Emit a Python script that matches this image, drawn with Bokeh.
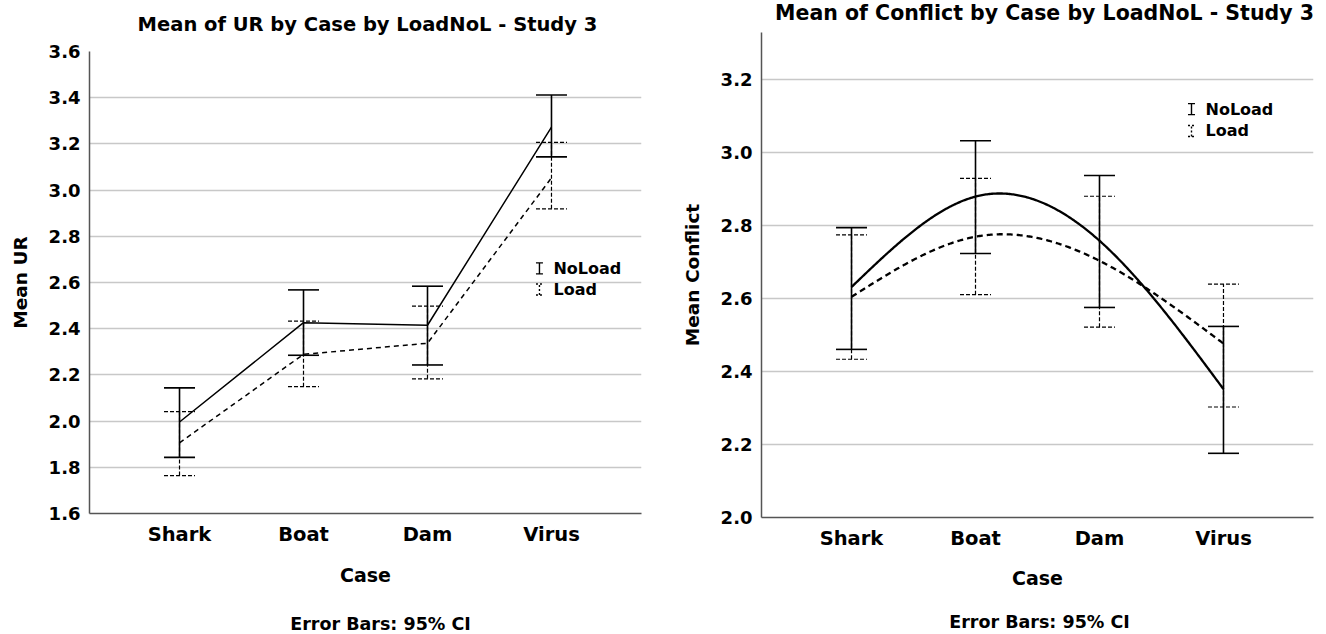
import numpy as np
from jinja2 import Template
from bokeh.plotting import figure
from bokeh.models import FixedTicker, Range1d, Label
from bokeh.embed import file_html
from bokeh.resources import INLINE

# ---------------- data ----------------
cases = ["Shark", "Boat", "Dam", "Virus"]
groups = ["NoLoad", "Load"]

ur_noload_mean = [1.996, 2.426, 2.415, 3.273]
ur_noload_low = [1.843, 2.285, 2.243, 3.144]
ur_noload_high = [2.144, 2.568, 2.584, 3.412]
ur_load_mean = [1.906, 2.289, 2.337, 3.053]
ur_load_low = [1.764, 2.149, 2.183, 2.919]
ur_load_high = [2.041, 2.433, 2.498, 3.207]

cf_noload_mean = [2.632, 2.880, 2.759, 2.352]
cf_noload_low = [2.461, 2.724, 2.576, 2.176]
cf_noload_high = [2.795, 3.033, 2.938, 2.524]
cf_load_mean = [2.605, 2.770, 2.704, 2.477]
cf_load_low = [2.434, 2.611, 2.522, 2.303]
cf_load_high = [2.775, 2.930, 2.881, 2.640]

ur_ticks = [1.6, 1.8, 2.0, 2.2, 2.4, 2.6, 2.8, 3.0, 3.2, 3.4, 3.6]
cf_ticks = [2.0, 2.2, 2.4, 2.6, 2.8, 3.0, 3.2]

FONT = "DejaVu Sans"
xpos = list(range(len(cases)))


def natural_spline(xs, ys, n=300):
    xs = np.asarray(xs, float)
    ys = np.asarray(ys, float)
    k = len(xs)
    h = np.diff(xs)
    A = np.zeros((k, k))
    b = np.zeros(k)
    A[0, 0] = A[-1, -1] = 1
    for i in range(1, k - 1):
        A[i, i - 1] = h[i - 1]
        A[i, i] = 2 * (h[i - 1] + h[i])
        A[i, i + 1] = h[i]
        b[i] = 6 * ((ys[i + 1] - ys[i]) / h[i] - (ys[i] - ys[i - 1]) / h[i - 1])
    M = np.linalg.solve(A, b)
    xx = np.linspace(xs[0], xs[-1], n)
    idx = np.clip(np.searchsorted(xs, xx) - 1, 0, k - 2)
    x0 = xs[idx]
    x1 = xs[idx + 1]
    hh = x1 - x0
    t0 = x1 - xx
    t1 = xx - x0
    yy = (M[idx] * t0 ** 3 / (6 * hh) + M[idx + 1] * t1 ** 3 / (6 * hh)
          + (ys[idx] / hh - M[idx] * hh / 6) * t0
          + (ys[idx + 1] / hh - M[idx + 1] * hh / 6) * t1)
    return xx, yy


def make_fig(width, ylo, yhi, ticks, ylabel, title, mb, case_standoff,
             title_pos, title_size, eb_pos):
    p = figure(width=width, height=634, x_range=Range1d(-0.726, 3.726),
               y_range=Range1d(ylo, yhi), output_backend="svg",
               toolbar_location=None, min_border_left=mb[0],
               min_border_right=mb[1], min_border_top=mb[2],
               min_border_bottom=mb[3])
    p.outline_line_color = None
    p.background_fill_color = "white"
    p.border_fill_color = "white"

    p.xgrid.grid_line_color = None
    p.ygrid.grid_line_color = "#c8c8c8"
    p.ygrid.grid_line_width = 1.5
    p.ygrid.ticker = FixedTicker(ticks=ticks)

    for ax in (p.xaxis[0], p.yaxis[0]):
        ax.axis_line_color = "#555555"
        ax.axis_line_width = 1.5
        ax.major_tick_line_color = None
        ax.minor_tick_line_color = None
        ax.major_tick_out = 0
        ax.major_tick_in = 0
        ax.major_label_text_font = FONT
        ax.major_label_text_font_style = "bold"
        ax.major_label_text_color = "black"
        ax.axis_label_text_font = FONT
        ax.axis_label_text_font_style = "bold"
        ax.axis_label_text_color = "black"

    p.yaxis.major_label_text_font_size = "18px"
    p.yaxis.axis_label_text_font_size = "18.5px"
    p.yaxis.ticker = FixedTicker(ticks=ticks)
    p.yaxis.major_label_overrides = {t: f"{t:.1f}" for t in ticks}
    p.yaxis.major_label_standoff = 9
    p.yaxis.axis_label = ylabel
    p.yaxis.axis_label_standoff = 15

    p.xaxis.major_label_text_font_size = "19.5px"
    p.xaxis.axis_label_text_font_size = "19px"
    p.xaxis.ticker = FixedTicker(ticks=xpos)
    p.xaxis.major_label_overrides = {i: c for i, c in enumerate(cases)}
    p.xaxis.major_label_standoff = 9
    p.xaxis.axis_label = "Case"
    p.xaxis.axis_label_standoff = case_standoff

    # chart title and footnote as labels in the side panels
    p.add_layout(Label(x=title_pos[0], y=title_pos[1], x_units="screen",
                       y_units="screen", text=title, text_align="center",
                       text_baseline="middle", text_font=FONT,
                       text_font_size=title_size, text_font_style="bold",
                       text_color="black"), "above")
    p.add_layout(Label(x=eb_pos[0], y=eb_pos[1], x_units="screen",
                       y_units="screen", text="Error Bars: 95% CI",
                       text_align="center", text_baseline="middle",
                       text_font=FONT, text_font_size="17.5px",
                       text_font_style="bold", text_color="black"), "below")
    return p


def error_bars(p, lo, hi, dash, lw, cap=0.125):
    kw = dict(line_color="black", line_width=lw, line_dash=dash)
    p.segment(x0=xpos, y0=lo, x1=xpos, y1=hi, **kw)
    p.segment(x0=[x - cap for x in xpos], y0=hi,
              x1=[x + cap for x in xpos], y1=hi, **kw)
    p.segment(x0=[x - cap for x in xpos], y0=lo,
              x1=[x + cap for x in xpos], y1=lo, **kw)


def legend(p, x, y_top, dy, ypx, xpx):
    hh = 5.5 * ypx
    cw = 3.5 * xpx
    styles = [("solid", 1.4), ("2 2", 1.4)]
    for k, g in enumerate(groups):
        yc = y_top - k * dy
        dash, lw = styles[k]
        p.segment(x0=[x, x - cw, x - cw], y0=[yc - hh, yc + hh, yc - hh],
                  x1=[x, x + cw, x + cw], y1=[yc + hh, yc + hh, yc - hh],
                  line_color="black", line_width=lw, line_dash=dash)
        p.add_layout(Label(x=x + 14 * xpx, y=yc, text=g, text_font=FONT,
                           text_font_size="16px", text_font_style="bold",
                           text_baseline="middle", text_color="black"))


# ---------------- left chart: UR ----------------
p1 = make_fig(668, 1.6, 3.6, ur_ticks, "Mean UR",
              "Mean of UR by Case by LoadNoL - Study 3", (89, 27, 51, 121),
              case_standoff=15, title_pos=(278, 27), title_size="19.5px",
              eb_pos=(291, -15))
p1.name = "left"
error_bars(p1, ur_load_low, ur_load_high, "4 2", 1.2)
error_bars(p1, ur_noload_low, ur_noload_high, "solid", 1.6)
p1.line(xpos, ur_load_mean, line_color="black", line_width=1.5, line_dash="5 4")
p1.line(xpos, ur_noload_mean, line_color="black", line_width=1.5)
legend(p1, 2.903, 2.661, 0.091, 2.0 / 462, 1.0 / 124)

# ---------------- right chart: Conflict ----------------
p2 = make_fig(650, 2.0, 3.33, cf_ticks, "Mean Conflict",
              "Mean of Conflict by Case by LoadNoL - Study 3", (93, 5, 32, 117),
              case_standoff=14, title_pos=(283, 20), title_size="20.5px",
              eb_pos=(278, -10))
p2.name = "right"
error_bars(p2, cf_load_low, cf_load_high, "4 2", 1.2)
error_bars(p2, cf_noload_low, cf_noload_high, "solid", 1.6)
sx, sy = natural_spline(xpos, cf_load_mean)
p2.line(sx, sy, line_color="black", line_width=2.3, line_dash="6 4")
sx, sy = natural_spline(xpos, cf_noload_mean)
p2.line(sx, sy, line_color="black", line_width=2.3)
legend(p2, 2.742, 3.12, 0.06, 1.33 / 485, 1.0 / 124)

template = Template("""{% extends base %}
{% block contents %}
<div style="display:flex; flex-direction:row; align-items:flex-start;">
{{ embed(roots.left) }}
{{ embed(roots.right) }}
</div>
{% endblock %}""")

html = file_html([p1, p2], INLINE, template=template)
open("out.html", "w").write(html)
